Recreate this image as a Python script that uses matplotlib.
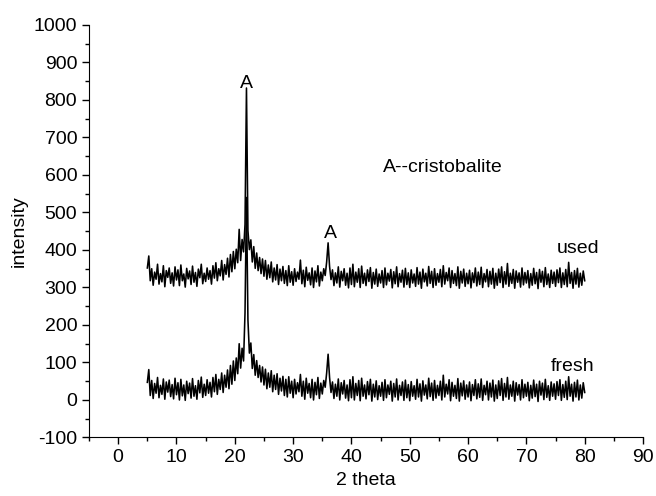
import numpy as np
import matplotlib.pyplot as plt
from matplotlib.ticker import MultipleLocator

plt.rcParams['font.family'] = ['Liberation Sans', 'DejaVu Sans']
plt.rcParams['axes.unicode_minus'] = False

# XRD intensities, 0.25 deg steps from 5 to 80 (2 theta)
used = [
    352, 384, 318, 350, 306, 341, 322, 362, 309, 337, 315, 358, 302, 345, 327, 352, 311, 339, 304, 355,
    320, 347, 305, 360, 318, 336, 301, 351, 323, 344, 308, 357, 314, 340, 303, 349, 326, 362, 310, 338,
    316, 352, 322, 345, 309, 358, 325, 366, 318, 350, 331, 372, 320, 361, 335, 378, 328, 388, 342, 396,
    350, 402, 366, 455, 372, 428, 395, 468, 832, 452, 401, 427, 368, 409, 351, 392, 345, 380, 337, 376,
    330, 372, 322, 360, 326, 368, 315, 352, 320, 361, 308, 349, 318, 356, 311, 345, 305, 358, 314, 342,
    306, 350, 316, 341, 322, 373, 310, 346, 302, 354, 319, 339, 307, 352, 300, 344, 315, 358, 304, 341,
    318, 350, 332, 368, 419, 356, 321, 347, 305, 339, 312, 355, 301, 343, 318, 350, 306, 338, 299, 352,
    308, 362, 302, 341, 314, 350, 300, 357, 311, 338, 305, 347, 316, 353, 298, 340, 309, 349, 303, 336,
    312, 345, 300, 352, 307, 338, 317, 348, 299, 342, 310, 355, 302, 337, 314, 346, 301, 351, 308, 339,
    300, 347, 312, 336, 303, 353, 309, 341, 298, 349, 315, 338, 304, 356, 311, 343, 300, 350, 306, 337,
    314, 348, 302, 358, 309, 340, 318, 352, 300, 345, 311, 337, 305, 355, 298, 343, 312, 349, 303, 338,
    310, 346, 299, 339, 313, 352, 304, 341, 308, 354, 300, 337, 315, 348, 302, 343, 309, 351, 298, 338,
    306, 349, 313, 355, 300, 342, 309, 364, 303, 338, 311, 348, 298, 344, 314, 339, 301, 352, 307, 340,
    312, 345, 299, 337, 306, 351, 310, 340, 297, 348, 314, 343, 302, 353, 308, 336, 300, 346, 311, 341,
    303, 347, 313, 352, 300, 339, 308, 348, 302, 367, 311, 340, 298, 345, 309, 351, 301, 338, 306, 344,
    318,
]
fresh = [
    47, 81, 12, 52, 4, 44, 18, 60, 6, 39, 15, 56, 2, 48, 21, 53, 9, 41, 3, 58,
    14, 46, 0, 55, 11, 40, -1, 50, 17, 45, 5, 57, 10, 38, 2, 52, 19, 61, 7, 42,
    12, 54, 18, 47, 8, 60, 22, 68, 15, 55, 28, 72, 20, 66, 34, 80, 30, 92, 42, 104,
    52, 112, 70, 150, 85, 138, 104, 232, 540, 214, 125, 152, 84, 121, 66, 105, 60, 92, 48, 88,
    40, 82, 30, 72, 34, 78, 22, 66, 28, 70, 15, 58, 24, 63, 12, 55, 8, 62, 18, 50,
    6, 55, 16, 46, 22, 68, 10, 50, 2, 58, 18, 44, 6, 55, 0, 47, 14, 60, 4, 45,
    16, 52, 34, 72, 122, 60, 20, 48, 4, 42, 10, 56, 0, 46, 16, 52, 5, 40, -2, 54,
    6, 62, 0, 44, 12, 52, -2, 58, 10, 40, 3, 49, 14, 55, -3, 42, 8, 51, 1, 38,
    10, 47, -1, 54, 6, 40, 15, 50, -3, 44, 8, 56, 0, 39, 12, 48, -1, 53, 6, 41,
    -2, 49, 10, 38, 2, 55, 8, 43, -3, 51, 13, 40, 3, 58, 9, 45, -1, 52, 5, 39,
    12, 50, 0, 66, 8, 42, 16, 54, -2, 47, 10, 39, 4, 57, -3, 45, 11, 51, 2, 40,
    8, 48, -2, 41, 12, 54, 3, 43, 7, 56, -1, 39, 14, 50, 0, 45, 8, 53, -3, 40,
    4, 51, 12, 57, -1, 44, 8, 60, 2, 40, 10, 50, -3, 46, 13, 41, 0, 54, 6, 42,
    10, 47, -2, 39, 5, 53, 9, 42, -4, 50, 13, 45, 1, 55, 7, 38, -1, 48, 10, 43,
    2, 49, 12, 54, -1, 41, 7, 50, 1, 62, 10, 42, -3, 47, 8, 53, 0, 40, 5, 46,
    20,
]
two_theta = np.linspace(5, 80, len(used))

fig = plt.figure(figsize=(6.56, 4.96), dpi=100)
ax = fig.add_axes([0.1357, 0.118, 0.8445, 0.8316])

ax.plot(two_theta, used, color='black', lw=1.15)
ax.plot(two_theta, fresh, color='black', lw=1.15)

fs = 14
ax.text(22, 845, 'A', ha='center', va='center', fontsize=fs)
ax.text(36.4, 445, 'A', ha='center', va='center', fontsize=fs)
ax.text(55.6, 621, 'A--cristobalite', ha='center', va='center', fontsize=fs)
ax.text(78.8, 405, 'used', ha='center', va='center', fontsize=fs)
ax.text(77.9, 88, 'fresh', ha='center', va='center', fontsize=fs)

ax.set_xlim(-5, 90)
ax.set_ylim(-100, 1000)
ax.xaxis.set_major_locator(MultipleLocator(10))
ax.xaxis.set_minor_locator(MultipleLocator(5))
ax.yaxis.set_major_locator(MultipleLocator(100))
ax.yaxis.set_minor_locator(MultipleLocator(50))
ax.tick_params(which='both', direction='out', labelsize=fs, width=1)
ax.tick_params(which='major', length=5)
ax.tick_params(which='minor', length=3)
ax.spines['top'].set_visible(False)
ax.spines['right'].set_visible(False)
ax.set_xlabel('2 theta', fontsize=fs)
ax.set_ylabel('intensity', fontsize=fs)

fig.savefig('out.png', dpi=100)
